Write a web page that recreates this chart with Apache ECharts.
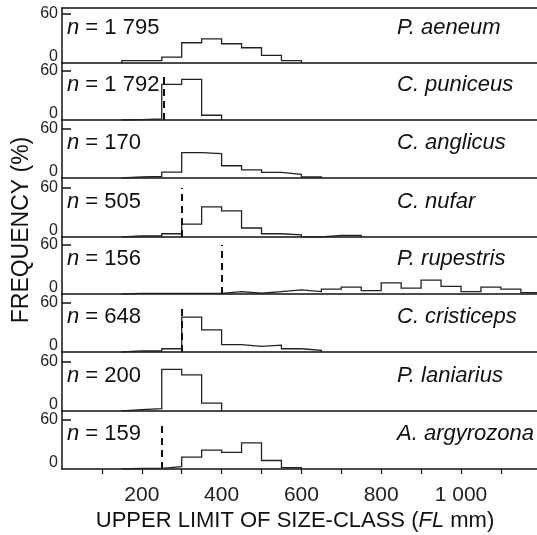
<!DOCTYPE html>
<html><head><meta charset="utf-8">
<script src="https://cdn.jsdelivr.net/npm/echarts@6/dist/echarts.min.js"></script>
<style>html,body{margin:0;padding:0;background:#fff}#c{width:537px;height:535px}</style>
</head><body><div id="c"></div>
<script>
// ---- data ----
const species = ['P. aeneum','C. puniceus','C. anglicus','C. nufar','P. rupestris','C. cristiceps','P. laniarius','A. argyrozona'];
const sampleSizes = ['1 795','1 792','170','505','156','648','200','159'];
const binWidth = 50;
const firstUpperLimit = 200; // upper limit of first size-class (mm)
const freqAeneum     = [3, 3, 7.3, 24.8, 29.6, 23.6, 18.7, 9.4, 2.9];
const freqPuniceus   = [0.5, 1.5, 43.6, 49.8, 5.8];
const freqAnglicus   = [1.2, 2, 7.2, 31, 30, 15, 10, 6.8, 4.4, 1.2];
const freqNufar      = [1.2, 1.2, 4, 15.7, 37, 32, 11, 4, 2.5, 0, 2, 2];
const freqRupestris  = [0.8, 0.8, 0.8, 0.8, 0.8, 2.9, 0.9, 2.9, 5, 2.9, 6, 8.5, 4.2, 13.6, 7.2, 16.9, 9.3, 2.9, 8.5, 6, 1.7];
const freqCristiceps = [1.2, 1.2, 4, 42.6, 27, 9, 7, 8.3, 4, 2];
const freqLaniarius  = [1.7, 3, 50.9, 44.3, 9.6];
const freqArgyrozona = [0.8, 0.8, 3, 14.6, 23, 20.4, 32, 10.4, 1.7];
const frequencies = [freqAeneum, freqPuniceus, freqAnglicus, freqNufar, freqRupestris, freqCristiceps, freqLaniarius, freqArgyrozona];
// dashed reference lines (size, top %) — null where none
const cutSize = [null, 255, null, 300, 400, 300, null, 250];
const cutTop  = [null, 54, null, 60, 60, 56, null, 58];
const yTickValues = [0, 60];
const xTickValues = [100, 200, 300, 400, 500, 600, 700, 800, 900, 1000, 1100];
const xLabelValues = [200, 400, 600, 800, 1000];

// ---- layout ----
const W = 537, H = 535;
const LEFT = 62;
const zeroY = [63, 120, 178, 237, 294, 352, 411, 469];
const firstTop = 8;
const pxPerPct = 49 / 60;
const XMAX = (W - LEFT) / 0.399;
const FONT = '"Liberation Sans", Arial, Helvetica, sans-serif';
const INK = '#111';

const grids = [], xAxes = [], yAxes = [], series = [], graphics = [];
const fmtThousands = v => v >= 1000 ? String(v).replace(/\B(?=(\d{3})+(?!\d))/g, ' ') : String(v);

// outline of a histogram: from baseline up, across each class, back down
function outline(vals) {
  const pts = [];
  const lower0 = firstUpperLimit - binWidth;
  pts.push([lower0, 0]);
  vals.forEach((v, i) => {
    const lo = lower0 + i * binWidth, hi = lo + binWidth;
    pts.push([lo, v], [hi, v]);
  });
  pts.push([lower0 + vals.length * binWidth, 0]);
  return pts;
}

for (let k = 0; k < 8; k++) {
  const top = k === 0 ? firstTop : zeroY[k - 1];
  const h = zeroY[k] - top;
  grids.push({ left: LEFT, right: 0, top: top, height: h, containLabel: false });
  const last = k === 7;
  xAxes.push({
    type: 'value', gridIndex: k, min: 0, max: XMAX, interval: 100,
    axisLine: { show: true, lineStyle: { color: INK, width: 1.5 } },
    axisTick: { show: last, customValues: xTickValues, length: 5, lineStyle: { color: INK, width: 1.2 } },
    axisLabel: { show: last, customValues: xLabelValues, formatter: fmtThousands, fontSize: 21, color: '#222', fontFamily: FONT, margin: 16 },
    splitLine: { show: false }
  });
  yAxes.push({
    type: 'value', gridIndex: k, min: 0, max: h / pxPerPct, interval: 60,
    axisLine: { show: true, lineStyle: { color: INK, width: 1.5 } },
    axisTick: { show: true, inside: true, customValues: [60], length: 9, lineStyle: { color: INK, width: 1.5 } },
    axisLabel: {
      show: true, customValues: yTickValues, margin: 4, fontSize: 16, color: '#222', fontFamily: FONT,
      formatter: v => v === 0 ? '{z|0}' : '{s|' + v + '}',
      rich: { z: { fontSize: 16, fontFamily: FONT, color: '#222', padding: [0, 0, 12, 0] }, s: { fontSize: 16, fontFamily: FONT, color: '#222' } }
    },
    splitLine: { show: false }
  });
  const s = {
    type: 'line', xAxisIndex: k, yAxisIndex: k, data: outline(frequencies[k]),
    symbol: 'none', lineStyle: { color: '#222', width: 1.3, join: 'miter' }, animation: false, z: 3
  };
  if (cutSize[k] !== null) {
    s.markLine = {
      silent: true, symbol: ['none', 'none'], label: { show: false }, animation: false,
      lineStyle: { color: '#111', width: 2, type: [7, 5] },
      data: [[{ coord: [cutSize[k], 0] }, { coord: [cutSize[k], cutTop[k]] }]]
    };
  }
  series.push(s);
  const ty = zeroY[k] - 35;
  graphics.push({
    type: 'text', x: 67, y: ty,
    style: { text: '{i|n} = ' + sampleSizes[k], fontSize: 22, fontFamily: FONT, fill: '#111', verticalAlign: 'middle', align: 'left',
      rich: { i: { fontStyle: 'italic', fontSize: 22, fontFamily: FONT, fill: '#111' } } }
  });
  graphics.push({
    type: 'text', x: 397, y: ty,
    style: { text: species[k], fontSize: 22, fontStyle: 'italic', fontFamily: FONT, fill: '#111', verticalAlign: 'middle', align: 'left' }
  });
}
// top border of first panel
xAxes.push({
  type: 'value', gridIndex: 0, position: 'top', min: 0, max: XMAX,
  axisLine: { show: true, lineStyle: { color: INK, width: 1.5 } },
  axisTick: { show: false }, axisLabel: { show: false }, splitLine: { show: false }
});
graphics.push({
  type: 'text', x: 295, y: 521,
  style: { text: 'UPPER LIMIT OF SIZE-CLASS ({i|FL} mm)', fontSize: 22, fontFamily: FONT, fill: '#111', align: 'center', verticalAlign: 'middle',
    rich: { i: { fontStyle: 'italic', fontSize: 22, fontFamily: FONT, fill: '#111' } } }
});
graphics.push({
  type: 'text', x: 22, y: 230, rotation: Math.PI / 2,
  style: { text: 'FREQUENCY (%)', fontSize: 23, fontFamily: FONT, fill: '#111', align: 'center', verticalAlign: 'middle' }
});

const chart = echarts.init(document.getElementById('c'), null, { renderer: 'canvas', width: W, height: H });
chart.setOption({
  animation: false,
  backgroundColor: '#fff',
  grid: grids, xAxis: xAxes, yAxis: yAxes, series: series, graphic: graphics
});
</script></body></html>
